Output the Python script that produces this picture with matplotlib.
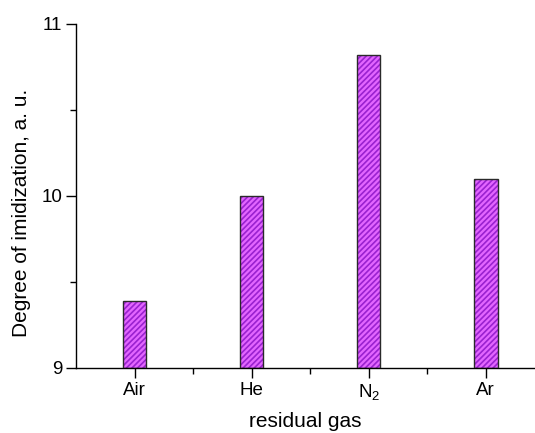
import matplotlib
matplotlib.use("Agg")
import matplotlib.pyplot as plt
from matplotlib.ticker import MultipleLocator, FixedLocator

categories = ["Air", "He", "N$_2$", "Ar"]
values = [9.39, 10.0, 10.82, 10.10]

plt.rcParams['font.family'] = ['Liberation Sans', 'DejaVu Sans']
plt.rcParams['mathtext.fontset'] = 'custom'
plt.rcParams['mathtext.rm'] = 'Liberation Sans'
plt.rcParams['mathtext.it'] = 'Liberation Sans:italic'
plt.rcParams['hatch.linewidth'] = 1.2

fig = plt.figure(figsize=(5.35, 4.33), dpi=100)
ax = fig.add_axes([76/535, 1 - 368/433, 1 - 76/535, (368 - 24)/433])

x = list(range(1, len(categories) + 1))
ax.bar(x, [v - 9 for v in values], bottom=9, width=0.2, color="#e366ff",
       edgecolor="#9a22d0", hatch="//////", linewidth=0, zorder=2)
ax.bar(x, [v - 9 for v in values], bottom=9, width=0.2, fill=False,
       edgecolor="#2a2a2a", linewidth=1.0, zorder=3)

ax.set_xlim(0.5, 4.42)
ax.set_ylim(9, 11)
ax.set_xticks(x)
ax.set_xticklabels(categories)
ax.xaxis.set_minor_locator(FixedLocator([1.5, 2.5, 3.5]))
ax.yaxis.set_major_locator(MultipleLocator(1))
ax.yaxis.set_minor_locator(MultipleLocator(0.5))

for s in ["top", "right"]:
    ax.spines[s].set_visible(False)
for s in ["left", "bottom"]:
    ax.spines[s].set_linewidth(1.0)

ax.tick_params(which="major", direction="out", length=7, width=1, labelsize=13.5, pad=3)
ax.tick_params(which="minor", direction="out", length=4, width=1)

ax.set_xlabel("residual gas", fontsize=15, labelpad=7)
ax.set_ylabel("Degree of imidization, a. u.", fontsize=15)
ax.yaxis.set_label_coords(-0.097, 0.45)

fig.savefig("out.png", dpi=100)
